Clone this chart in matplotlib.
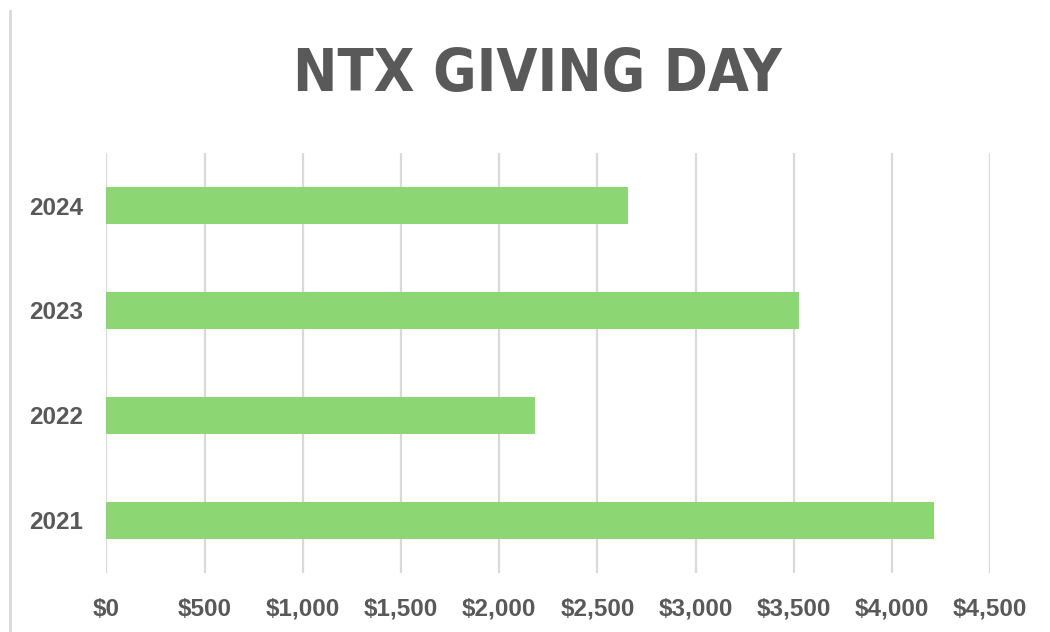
import matplotlib
matplotlib.use("Agg")
import matplotlib.pyplot as plt
from matplotlib.ticker import FuncFormatter
from matplotlib.lines import Line2D

years = ["2021", "2022", "2023", "2024"]
amounts = [4214, 2183, 3528, 2657]
xticks = [0, 500, 1000, 1500, 2000, 2500, 3000, 3500, 4000, 4500]
title = "NTX GIVING DAY"

plt.rcParams['font.family'] = ['Liberation Sans', 'DejaVu Sans']
txt = "#595959"
fig = plt.figure(figsize=(10.5, 6.32), dpi=100)
ax = fig.add_axes([0.1014, 0.0934, 0.8415, 0.6645])
ax.barh(years, amounts, height=0.35, color="#8CD674", zorder=3)
ax.set_xlim(0, 4500)
ax.set_ylim(-0.5, 3.5)
ax.set_xticks(xticks)
ax.xaxis.set_major_formatter(FuncFormatter(lambda v, p: f"${v:,.0f}"))
ax.grid(axis='x', color="#D9D9D9", linewidth=1.6, zorder=0)
for s in ax.spines.values():
    s.set_visible(False)
ax.tick_params(axis='both', length=0, labelsize=17.5, labelcolor=txt)
ax.tick_params(axis='y', pad=17)
ax.tick_params(axis='x', pad=18)
for lab in ax.get_xticklabels() + ax.get_yticklabels():
    lab.set_fontweight('bold')

fig.text(537/1050, 1 - 75/632, title, ha='center', va='center',
         fontsize=42.5, fontweight='bold', color=txt, fontstretch='condensed',
         family=['DejaVu Sans'])
fig.add_artist(Line2D([9.5/1050, 9.5/1050], [0, 1 - 11/632], transform=fig.transFigure,
                      color="#D9D9D9", linewidth=2))
fig.savefig("out.png", dpi=100)
